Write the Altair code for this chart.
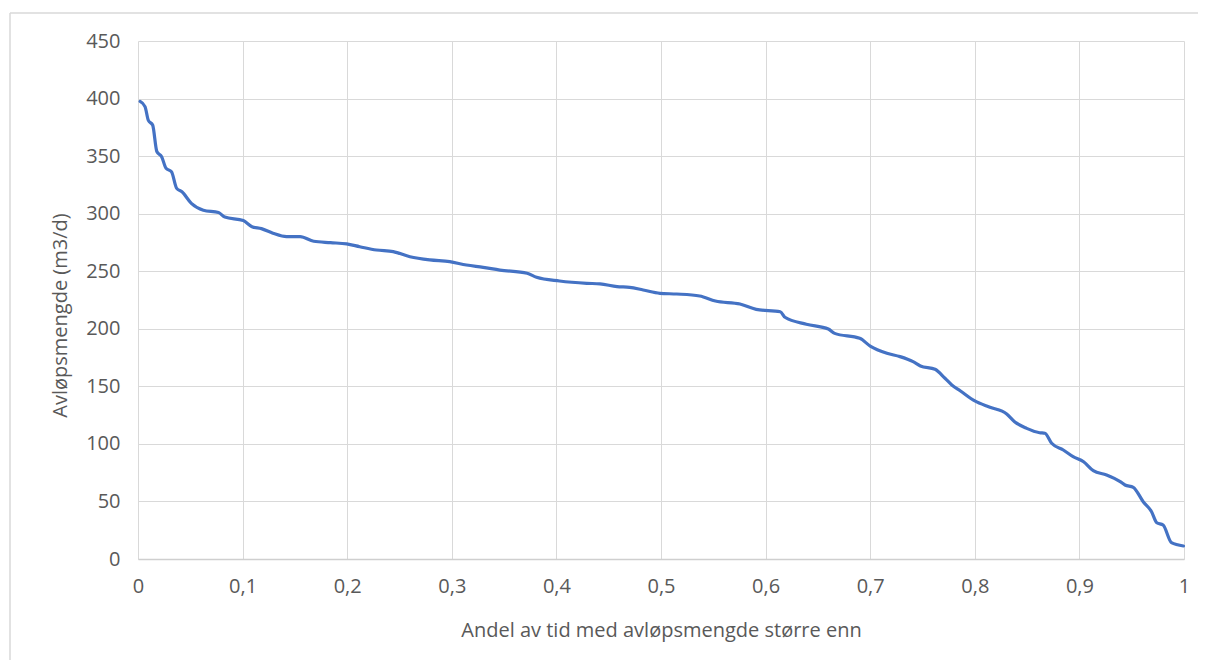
import altair as alt
import pandas as pd

# Fraction of time (x) and flow (y, m3/d)
andel = [0.002, 0.0067, 0.0099, 0.014, 0.018, 0.0226, 0.0268, 0.032, 0.037, 0.042,
         0.051, 0.0625, 0.077, 0.083, 0.1007, 0.109, 0.118, 0.129, 0.142, 0.155,
         0.168, 0.184, 0.1995, 0.212, 0.228, 0.244, 0.26, 0.279, 0.298, 0.314,
         0.330, 0.346, 0.372, 0.381, 0.403, 0.429, 0.4417, 0.458, 0.470, 0.483,
         0.499, 0.515, 0.537, 0.552, 0.5755, 0.591, 0.614, 0.6185, 0.639, 0.660,
         0.666, 0.690, 0.700, 0.716, 0.7285, 0.741, 0.748, 0.762, 0.7715, 0.778,
         0.786, 0.800, 0.8145, 0.8305, 0.838, 0.8496, 0.862, 0.867, 0.8735, 0.8846,
         0.894, 0.904, 0.9133, 0.926, 0.939, 0.9436, 0.9515, 0.961, 0.969, 0.974,
         0.980, 0.988, 0.9995]
mengde = [397.5, 393, 381, 377, 354, 349.5, 339.4, 336.5, 322, 319,
          309, 303, 301, 297, 294, 288.7, 287, 283, 280, 280,
          276, 274.8, 273.7, 271.3, 268.4, 267, 262.6, 259.8, 258.3, 255.4,
          253.4, 251, 248.2, 244.7, 241.5, 239.5, 239, 236.6, 236, 233.7,
          230.8, 230.2, 228.5, 224.1, 221.5, 216.9, 214.8, 210, 204, 199.8,
          196, 191.7, 185, 178.7, 175.8, 171.4, 167.7, 164.8, 157, 151.2,
          146.2, 137.3, 131.8, 126, 119.3, 113.5, 109.7, 109.2, 100.5, 94.7,
          88.9, 84.5, 76.7, 73, 67.2, 64.3, 62.3, 49.8, 41.1, 31.5,
          29.5, 14.2, 11.3]

x_ticks = [0, 0.1, 0.2, 0.3, 0.4, 0.5, 0.6, 0.7, 0.8, 0.9, 1]
y_ticks = [0, 50, 100, 150, 200, 250, 300, 350, 400, 450]

x_title = "Andel av tid med avløpsmengde større enn"
y_title = "Avløpsmengde (m3/d)"

df = pd.DataFrame({"andel": andel, "mengde": mengde})

FONT = "Open Sans"
TXT = "#595959"
GRID = "#d9d9d9"

frame = alt.Data(values=[{"k": 1}])
border_top = alt.Chart(frame).mark_rule(
    color=GRID, strokeWidth=1.5, clip=False
).encode(x=alt.value(-128), x2=alt.value(1070), y=alt.value(-28))
border_left = alt.Chart(frame).mark_rule(
    color=GRID, strokeWidth=1.5, clip=False
).encode(x=alt.value(-128), y=alt.value(-28), y2=alt.value(640))

line = alt.Chart(df).mark_line(
    color="#4472C4", strokeWidth=3.2, interpolate="monotone", strokeCap="round", strokeJoin="round"
).encode(
    x=alt.X("andel:Q",
            scale=alt.Scale(domain=[0, 1], nice=False, zero=False),
            axis=alt.Axis(values=x_ticks, title=x_title,
                          labelExpr="replace(format(datum.value, '.1~f'), '.', ',')",
                          grid=True, gridColor=GRID, gridWidth=1,
                          ticks=False, domain=True, domainColor="#cfcfcf", domainWidth=1.5,
                          labelFlush=False, labelOverlap=False,
                          labelPadding=17, labelFontSize=20, labelFont=FONT, labelColor=TXT,
                          titleFont=FONT, titleFontSize=20, titleColor=TXT, titleFontWeight="normal",
                          titleY=71, titleBaseline="middle")),
    y=alt.Y("mengde:Q",
            scale=alt.Scale(domain=[0, 450], nice=False),
            axis=alt.Axis(values=y_ticks, title=y_title,
                          grid=True, gridColor=GRID, gridWidth=1,
                          ticks=False, domain=False, labelFlush=False,
                          labelPadding=18, labelFontSize=20, labelFont=FONT, labelColor=TXT,
                          titleFont=FONT, titleFontSize=20, titleColor=TXT, titleFontWeight="normal",
                          titleAngle=270, titleX=-78, titleY=274,
                          titleAlign="center", titleBaseline="middle")),
)

chart = alt.layer(border_top, border_left, line).properties(
    width=1046, height=518,
    autosize=alt.AutoSizeParams(type="none"),
    padding={"left": 130, "top": 33, "right": 14, "bottom": 101},
    background="white",
).configure_view(stroke=None)

chart.save("out.html", embed_options={"renderer": "svg", "actions": False})
